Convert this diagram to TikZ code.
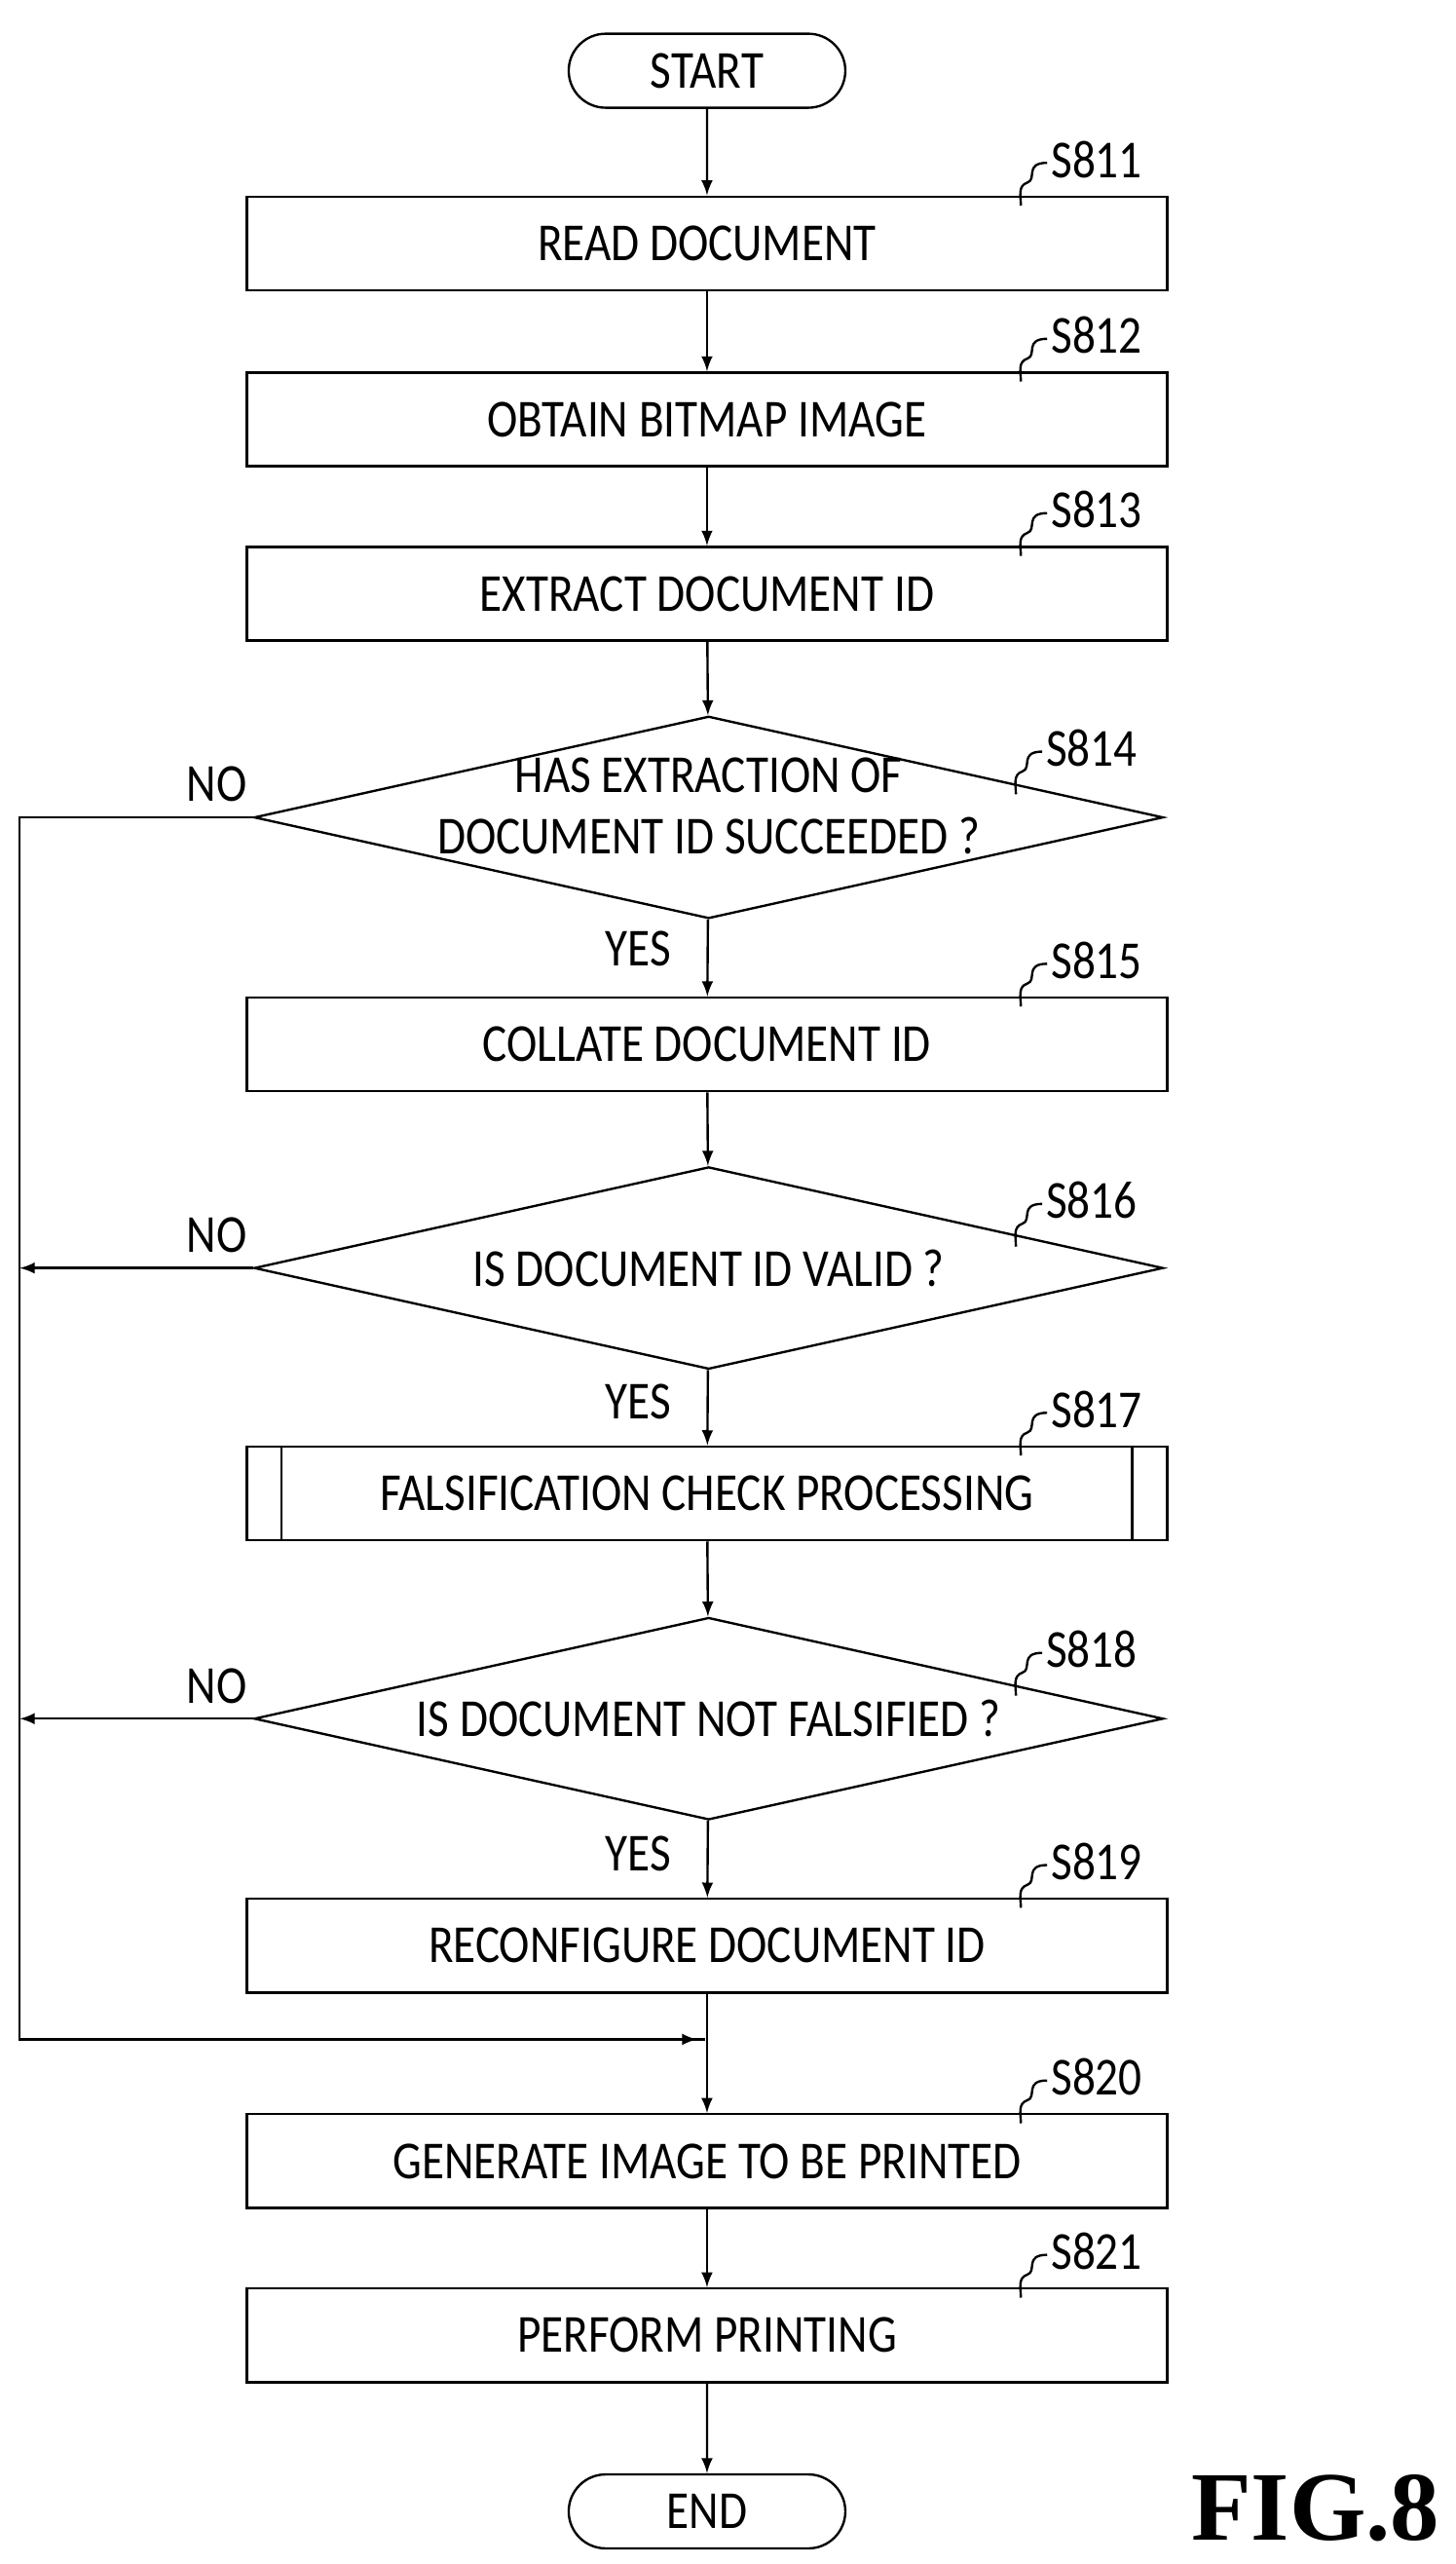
\documentclass[tikz,border=0pt]{standalone}
\usepackage{fontspec}
\setmainfont{Carlito}[FakeStretch=0.86]
\newfontfamily\figfont{Liberation Serif}
\usetikzlibrary{shapes.geometric,shapes.misc,calc}

\newcommand{\steplbl}[3]{%
 \node at (#2) [steptext] (#1lbl) {#3};
 \draw ($(#1lbl.west)+(0,2)$) .. controls +(-14,0) and +(6,-2) .. ++(-12,12) .. controls +(-6,2) and +(0,-6) .. ++(-4,14);
}

\begin{document}
\begin{tikzpicture}[
 x=0.02cm, y=-0.02cm,
 line width=0.8pt,
 >={latex},
 font=\fontsize{18.5}{19}\selectfont,
 box/.style={
  draw=black,
  rectangle,
  minimum width=11.2cm,
  minimum height=1.14cm,
 },
 term/.style={
  draw=black,
  rounded rectangle,
  minimum width=3.6cm,
  minimum height=0.9cm,
 },
 dec/.style={
  draw=black,
  diamond,
  inner sep=0pt,
  minimum width=11.06cm,
  minimum height=2.46cm,
 },
 steptext/.style={inner sep=1pt},
 anno/.style={inner sep=1pt},
]
\useasboundingbox (0,0) rectangle (885,1559);

\node at (430,43) [term] (start) {START};
\node at (430,148) [box] (read) {READ DOCUMENT};
\node at (430,255) [box] (bitmap) {OBTAIN BITMAP IMAGE};
\node at (430,361) [box] (extract) {EXTRACT DOCUMENT ID};
\node at (431,497) [dec] (succ) {};
\node at (431,490) [align=center,font=\fontsize{18.5}{21}\selectfont] (succtxt) {HAS EXTRACTION OF\\DOCUMENT ID SUCCEEDED ?};
\node at (430,635) [box] (collate) {COLLATE DOCUMENT ID};
\node at (431,771) [dec] (valid) {};
\node at (431,771) (validtxt) {IS DOCUMENT ID VALID ?};
\node at (430,908) [box] (check) {FALSIFICATION CHECK PROCESSING};
\draw ($(check.north west)+(22,0)$) -- ($(check.south west)+(22,0)$);
\draw ($(check.north east)+(-22,0)$) -- ($(check.south east)+(-22,0)$);
\node at (431,1045) [dec] (falsi) {};
\node at (431,1045) (falsitxt) {IS DOCUMENT NOT FALSIFIED ?};
\node at (430,1183) [box] (reconf) {RECONFIGURE DOCUMENT ID};
\coordinate (merge) at (430,1240);
\node at (430,1314) [box] (generate) {GENERATE IMAGE TO BE PRINTED};
\node at (430,1420) [box] (print) {PERFORM PRINTING};
\node at (430,1527) [term] (end) {END};

\steplbl{read}{667,97}{S811}
\steplbl{bitmap}{667,204}{S812}
\steplbl{extract}{667,310}{S813}
\steplbl{succ}{664,455}{S814}
\steplbl{collate}{667,584}{S815}
\steplbl{valid}{664,730}{S816}
\steplbl{check}{667,857}{S817}
\steplbl{falsi}{664,1003}{S818}
\steplbl{reconf}{667,1132}{S819}
\steplbl{generate}{667,1263}{S820}
\steplbl{print}{667,1369}{S821}

\coordinate (leftline) at (12,497);

\draw[->] (start) -- (read);
\draw[->] (read) -- (bitmap);
\draw[->] (bitmap) -- (extract);
\draw[->] (extract) -- (succ);
\draw[->] (succ) -- (collate);
\draw[->] (collate) -- (valid);
\draw[->] (valid) -- (check);
\draw[->] (check) -- (falsi);
\draw[->] (falsi) -- (reconf);
\draw (reconf) -- (merge);
\draw[->] (merge) -- (generate);
\draw[->] (generate) -- (print);
\draw[->] (print) -- (end);

\draw (succ.west) -- (leftline) |- ($(merge)+(-1,0)$);
\draw[->] (leftline |- merge) -- ($(merge)+(-6,0)$);
\draw[->] (valid.west) -- (leftline |- valid.west);
\draw[->] (falsi.west) -- (leftline |- falsi.west);

\node at (132,477) [anno] (no1) {NO};
\node at (132,751) [anno] (no2) {NO};
\node at (132,1025) [anno] (no3) {NO};
\node at (388,577) [anno] (yes1) {YES};
\node at (388,852) [anno] (yes2) {YES};
\node at (388,1127) [anno] (yes3) {YES};

\node at (800,1525) [font=\figfont\bfseries\fontsize{34}{36}\selectfont] (fig) {FIG.8};
\end{tikzpicture}
\end{document}
